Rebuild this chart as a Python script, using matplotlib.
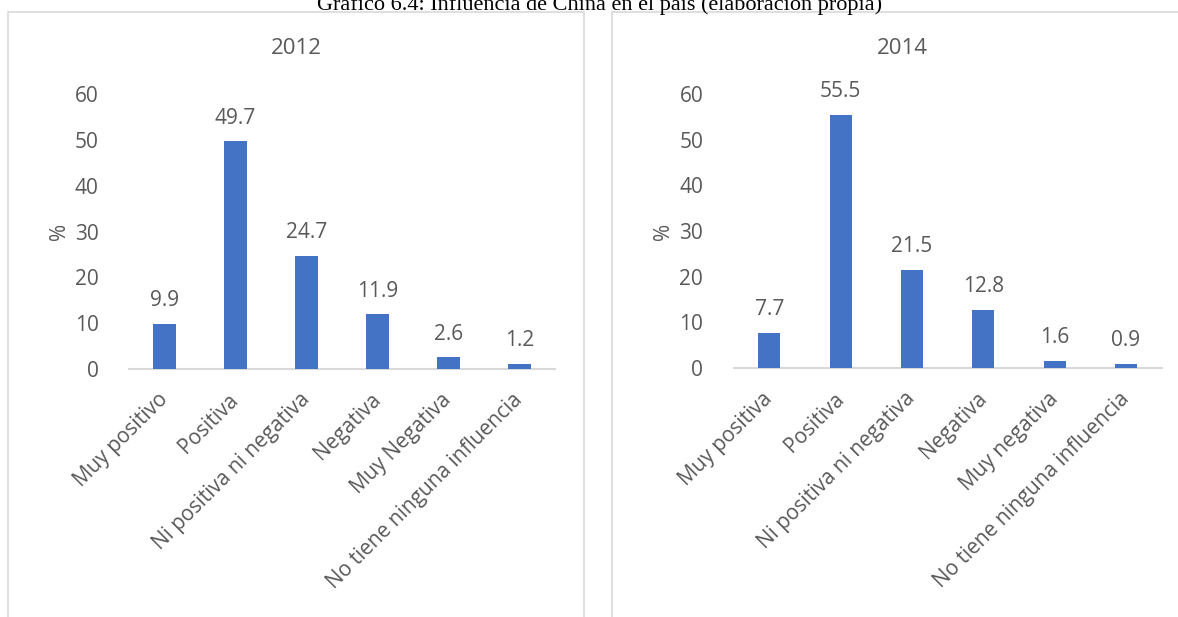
import matplotlib.pyplot as plt
from matplotlib.patches import Rectangle

cats_2012 = ["Muy positivo", "Positiva", "Ni positiva ni negativa", "Negativa",
             "Muy Negativa", "No tiene ninguna influencia"]
vals_2012 = [9.9, 49.7, 24.7, 11.9, 2.6, 1.2]

cats_2014 = ["Muy positiva", "Positiva", "Ni positiva ni negativa", "Negativa",
             "Muy negativa", "No tiene ninguna influencia"]
vals_2014 = [7.7, 55.5, 21.5, 12.8, 1.6, 0.9]

yticks = [0, 10, 20, 30, 40, 50, 60]

bar_color = '#4472C4'
text_color = '#595959'
grid_color = '#D9D9D9'
plt.rcParams['font.family'] = ['Open Sans', 'DejaVu Sans']

fig = plt.figure(figsize=(11.78, 6.17), dpi=100)
W, H = 1178, 617

# panel frames
for x0, x1 in [(8, 584), (612, 1190)]:
    fig.patches.append(Rectangle((x0 / W, -0.05), (x1 - x0) / W, 1.05 - 11.5 / H,
                                 transform=fig.transFigure, fill=False,
                                 edgecolor=grid_color, linewidth=1.2))

# caption, cut at the top as in the source page
fig.text(600 / W, 1 - 10 / H, "Gráfico 6.4: Influencia de China en el país (elaboración propia)",
         family='Liberation Serif', fontsize=16, ha='center', va='baseline', color='black')


def draw_panel(rect, cats, vals, title, title_x, ylab_x):
    ax = fig.add_axes(rect)
    x = range(len(vals))
    ax.bar(x, vals, width=0.31, color=bar_color, zorder=3)
    ax.set_xlim(-0.5, len(vals) - 0.5)
    ax.set_ylim(0, 60)
    ax.set_yticks(yticks)
    ax.set_xticks(list(x))
    ax.set_xticklabels(cats, rotation=45, ha='right', va='center',
                       rotation_mode='anchor', color=text_color, fontsize=15)
    ax.tick_params(axis='x', length=0, pad=20)
    ax.tick_params(axis='y', length=0, pad=22, labelsize=15, labelcolor=text_color)
    for s in ['top', 'right', 'left']:
        ax.spines[s].set_visible(False)
    ax.spines['bottom'].set_color(grid_color)
    ax.spines['bottom'].set_linewidth(1.5)
    for i, v in enumerate(vals):
        ax.annotate(f"{v}", (i, v), xytext=(0, 9), textcoords='offset points',
                    ha='center', va='bottom', fontsize=15, color=text_color,
                    annotation_clip=False)
    fig.text(title_x / W, 1 - 49 / H, title, ha='center', va='center',
             fontsize=16, color=text_color)
    fig.text(ylab_x / W, 1 - 231 / H, "%", ha='center', va='center', rotation=90,
             fontsize=15, color=text_color)
    return ax


draw_panel([129 / W, 1 - 369 / H, 426 / W, 275 / H], cats_2012, vals_2012, "2012", 296, 59)
draw_panel([733.7 / W, 1 - 368 / H, 428 / W, 274 / H], cats_2014, vals_2014, "2014", 902, 663)

fig.savefig('out.png', dpi=100)
